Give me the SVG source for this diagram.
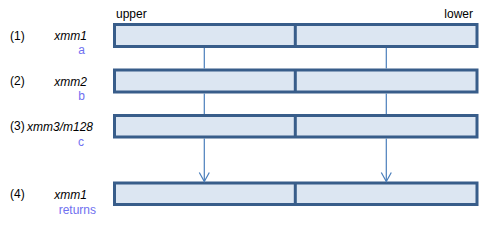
<svg xmlns="http://www.w3.org/2000/svg" width="484" height="226" viewBox="0 0 484 226">
<style>
.box{fill:#DCE6F2;stroke:#385D8A;stroke-width:3}
.div{stroke:#385D8A;stroke-width:3}
.t{font-family:"Liberation Sans",Arial,sans-serif;font-size:12px;fill:#000}
.i{font-style:italic}
.l{fill:#7070F0}
.c{stroke:#4A7EBB;stroke-width:1.2;fill:none}
</style>
<defs>
<marker id="arr" markerWidth="12" markerHeight="12" refX="10" refY="6" orient="auto" markerUnits="userSpaceOnUse" viewBox="0 0 12 12">
<path d="M1,1 L10,6 L1,11" fill="none" stroke="#4A7EBB" stroke-width="1.2"/>
</marker>
</defs>
<text class="t" x="116" y="18">upper</text>
<text class="t" x="473" y="18" text-anchor="end">lower</text>
<g id="row1">
<rect class="box" x="114.5" y="24.5" width="362.5" height="22"/>
<line class="div" x1="295.3" y1="24.5" x2="295.3" y2="46.5"/>
<text class="t" x="10" y="40">(1)</text>
<text class="t i" x="87" y="40" text-anchor="end">xmm1</text>
<text class="t l" x="85" y="54" text-anchor="end">a</text>
</g>
<g id="row2">
<rect class="box" x="114.5" y="70" width="362.5" height="22"/>
<line class="div" x1="295.3" y1="70" x2="295.3" y2="92"/>
<text class="t" x="10" y="85">(2)</text>
<text class="t i" x="87" y="86" text-anchor="end">xmm2</text>
<text class="t l" x="85" y="100" text-anchor="end">b</text>
</g>
<g id="row3">
<rect class="box" x="114.5" y="115.5" width="362.5" height="21.5"/>
<line class="div" x1="295.3" y1="115.5" x2="295.3" y2="137"/>
<text class="t" x="10" y="130">(3)</text>
<text class="t i" x="27" y="131">xmm3/m128</text>
<text class="t l" x="84" y="146" text-anchor="end">c</text>
</g>
<g id="row4">
<rect class="box" x="114.5" y="183" width="362.5" height="21.5"/>
<line class="div" x1="295.3" y1="183" x2="295.3" y2="204.5"/>
<text class="t" x="10" y="198">(4)</text>
<text class="t i" x="87" y="199" text-anchor="end">xmm1</text>
<text class="t l" x="96" y="214" text-anchor="end">returns</text>
</g>
<g id="connectors">
<line class="c" x1="204.3" y1="48" x2="204.3" y2="68.5"/>
<line class="c" x1="386.3" y1="48" x2="386.3" y2="68.5"/>
<line class="c" x1="204.3" y1="93.5" x2="204.3" y2="114"/>
<line class="c" x1="386.3" y1="93.5" x2="386.3" y2="114"/>
<line class="c" x1="204.3" y1="138.5" x2="204.3" y2="181.5" marker-end="url(#arr)"/>
<line class="c" x1="386.3" y1="138.5" x2="386.3" y2="181.5" marker-end="url(#arr)"/>
</g>
</svg>
